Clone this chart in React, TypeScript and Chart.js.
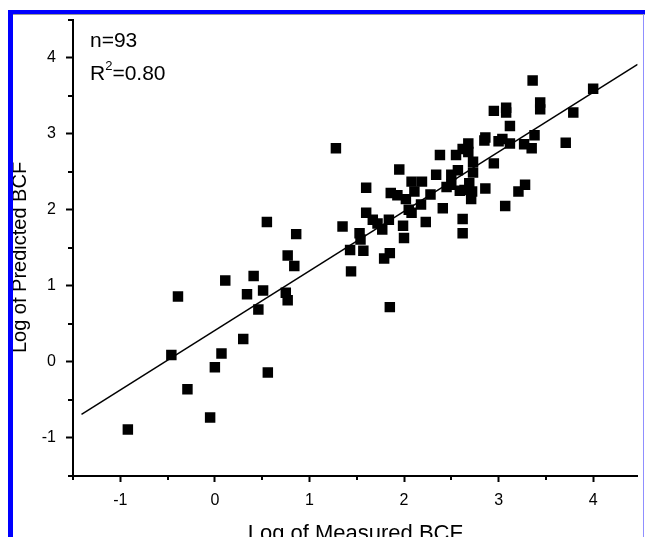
import React, { useEffect, useRef } from 'react';
import { Chart, registerables } from 'chart.js';

Chart.register(...registerables);

const FONT = '"Liberation Sans", Arial, Helvetica, sans-serif';

// Log of Measured BCF (x) and Log of Predicted BCF (y)
const measured = [
  -0.92, -0.46, -0.39, -0.29, -0.05, 0.0, 0.07, 0.11, 0.3, 0.34, 0.41, 0.46, 0.51, 0.55, 0.56,
  0.75, 0.77, 0.77, 0.84, 0.86, 1.28, 1.35, 1.43, 1.44, 1.53, 1.54, 1.57, 1.6, 1.6, 1.67,
  1.77, 1.79, 1.84, 1.85, 1.85, 1.86, 1.93, 1.95, 1.99, 2.0, 2.05, 2.08, 2.08, 2.11, 2.18,
  2.19, 2.23, 2.28, 2.34, 2.38, 2.41, 2.5, 2.5, 2.55, 2.57, 2.59, 2.62, 2.62, 2.64, 2.68,
  2.68, 2.69, 2.71, 2.72, 2.73, 2.73, 2.85, 2.86, 2.86, 2.95, 2.95, 3.04, 3.07, 3.08, 3.08,
  3.12, 3.12, 3.21, 3.28, 3.27, 3.35, 3.36, 3.38, 3.44, 3.44, 3.71, 3.79, 4.0,
  2.02, 2.45, 2.62, 3.0, 1.72,
];
const predicted = [
  -0.89, 0.09, 0.86, -0.36, -0.73, -0.07, 0.11, 1.07, 0.3, 0.89, 1.13, 0.69, 0.94, 1.84, -0.14,
  0.91, 0.81, 1.4, 1.26, 1.68, 2.81, 1.78, 1.47, 1.19, 1.69, 1.61, 1.46, 1.96, 2.29, 1.87,
  1.74, 1.36, 1.87, 1.43, 0.72, 2.22, 2.19, 2.53, 1.79, 1.63, 2.0, 1.96, 2.37, 2.24, 2.07,
  2.37, 1.84, 2.2, 2.46, 2.72, 2.02, 2.46, 2.33, 2.72, 2.52, 2.25, 1.88, 1.69, 2.26, 2.87,
  2.76, 2.35, 2.14, 2.24, 2.63, 2.49, 2.91, 2.95, 2.28, 3.3, 2.61, 2.93, 2.05, 3.34, 3.28,
  3.1, 2.87, 2.24, 2.33, 2.86, 2.81, 3.7, 2.98, 3.41, 3.32, 2.88, 3.28, 3.59,
  2.14, 2.3, 2.8, 2.9, 1.82,
];

// regression line end points
const fitX = [-1.41, 4.47];
const fitY = [-0.69, 3.91];

const xTicks = [-1, 0, 1, 2, 3, 4];
const yTicks = [-1, 0, 1, 2, 3, 4];
const minorTicks = [-1.5, -0.5, 0.5, 1.5, 2.5, 3.5, 4.5];

const xTitle = 'Log of Measured BCF';
const yTitle = 'Log of Predicted BCF';
const nLabel = 'n=93';
const r2Parts = ['R', '2', '=0.80'];

const decorPlugin = {
  id: 'decor',
  afterDraw(chart: any) {
    const { ctx, chartArea, scales } = chart;
    const xs = scales.x;
    const ys = scales.y;
    ctx.save();
    // minor ticks
    ctx.strokeStyle = '#000';
    ctx.lineWidth = 2;
    ctx.beginPath();
    for (const v of minorTicks) {
      if (v >= xs.min - 1e-9 && v <= xs.max + 1e-9) {
        const px = Math.round(xs.getPixelForValue(v));
        ctx.moveTo(px, chartArea.bottom);
        ctx.lineTo(px, chartArea.bottom + 4);
      }
      if (v >= ys.min - 1e-9 && v <= ys.max + 1e-9) {
        const py = Math.round(ys.getPixelForValue(v));
        ctx.moveTo(chartArea.left - 5, py);
        ctx.lineTo(chartArea.left, py);
      }
    }
    ctx.stroke();

    // y title
    ctx.fillStyle = '#000';
    ctx.save();
    ctx.translate(20.5, 257.5);
    ctx.rotate(-Math.PI / 2);
    ctx.font = `20px ${FONT}`;
    ctx.textAlign = 'center';
    ctx.textBaseline = 'middle';
    ctx.fillText(yTitle, 0, 0);
    ctx.restore();

    // annotations
    ctx.font = `21px ${FONT}`;
    ctx.textAlign = 'left';
    ctx.textBaseline = 'alphabetic';
    ctx.fillText(nLabel, 90, 46.5);
    let x = 90;
    ctx.fillText(r2Parts[0], x, 80);
    x += ctx.measureText(r2Parts[0]).width;
    ctx.font = `13px ${FONT}`;
    ctx.fillText(r2Parts[1], x, 70);
    x += ctx.measureText(r2Parts[1]).width;
    ctx.font = `21px ${FONT}`;
    ctx.fillText(r2Parts[2], x, 80);

    // frame bands
    ctx.fillStyle = '#0000ff';
    ctx.fillRect(8, 10, 637, 4);
    ctx.fillRect(8, 10, 5, 527);
    ctx.fillStyle = '#9a9a9a';
    ctx.fillRect(13, 14, 632, 1);
    ctx.fillStyle = '#8f8fff';
    ctx.fillRect(643, 14, 1, 523);
    ctx.restore();
  },
};

export default function App() {
  const ref = useRef<HTMLCanvasElement>(null);
  useEffect(() => {
    document.body.style.margin = '0';
    const points = measured.map((m, i) => ({ x: m, y: predicted[i] }));
    const fit = fitX.map((v, i) => ({ x: v, y: fitY[i] }));
    const chart = new Chart(ref.current as HTMLCanvasElement, {
      type: 'scatter',
      data: {
        datasets: [
          {
            type: 'line',
            data: fit,
            borderColor: '#000',
            borderWidth: 1.5,
            pointRadius: 0,
            fill: false,
          } as any,
          {
            type: 'scatter',
            data: points,
            pointStyle: 'rect',
            pointRadius: 7.4,
            pointBackgroundColor: '#000',
            pointBorderWidth: 0,
            pointBorderColor: '#000',
          } as any,
        ],
      },
      options: {
        responsive: false,
        animation: false,
        layout: { padding: { top: 14, right: 0, bottom: 0, left: 0 } },
        plugins: { legend: { display: false }, tooltip: { enabled: false } },
        scales: {
          x: {
            type: 'linear',
            position: 'bottom',
            min: -1.5,
            max: 4.47,
            afterBuildTicks: (s: any) => {
              s.ticks = xTicks.map((v) => ({ value: v }));
            },
            afterFit: (s: any) => {
              s.height = 61;
            },
            ticks: {
              color: '#000',
              font: { family: FONT, size: 16 },
              padding: 9,
              maxRotation: 0,
              autoSkip: false,
              callback: (v: any) => String(v),
            },
            grid: {
              drawOnChartArea: false,
              drawTicks: true,
              tickLength: 6,
              tickColor: '#000',
              tickWidth: 2,
            },
            border: { display: true, color: '#000', width: 2 },
            title: {
              display: true,
              text: xTitle,
              color: '#000',
              font: { family: FONT, size: 22 },
              padding: { top: 0, bottom: -10 },
            },
          },
          y: {
            type: 'linear',
            min: -1.5,
            max: 4.5,
            afterBuildTicks: (s: any) => {
              s.ticks = yTicks.map((v) => ({ value: v }));
            },
            afterFit: (s: any) => {
              s.width = 73;
            },
            ticks: {
              color: '#000',
              font: { family: FONT, size: 16 },
              padding: 10,
              autoSkip: false,
              callback: (v: any) => String(v),
            },
            grid: {
              drawOnChartArea: false,
              drawTicks: true,
              tickLength: 7,
              tickColor: '#000',
              tickWidth: 2,
            },
            border: { display: true, color: '#000', width: 2 },
          },
        },
      },
      plugins: [decorPlugin],
    } as any);
    return () => chart.destroy();
  }, []);
  return (
    <canvas
      ref={ref}
      width={645}
      height={537}
      style={{ display: 'block', width: '645px', height: '537px' }}
    />
  );
}
